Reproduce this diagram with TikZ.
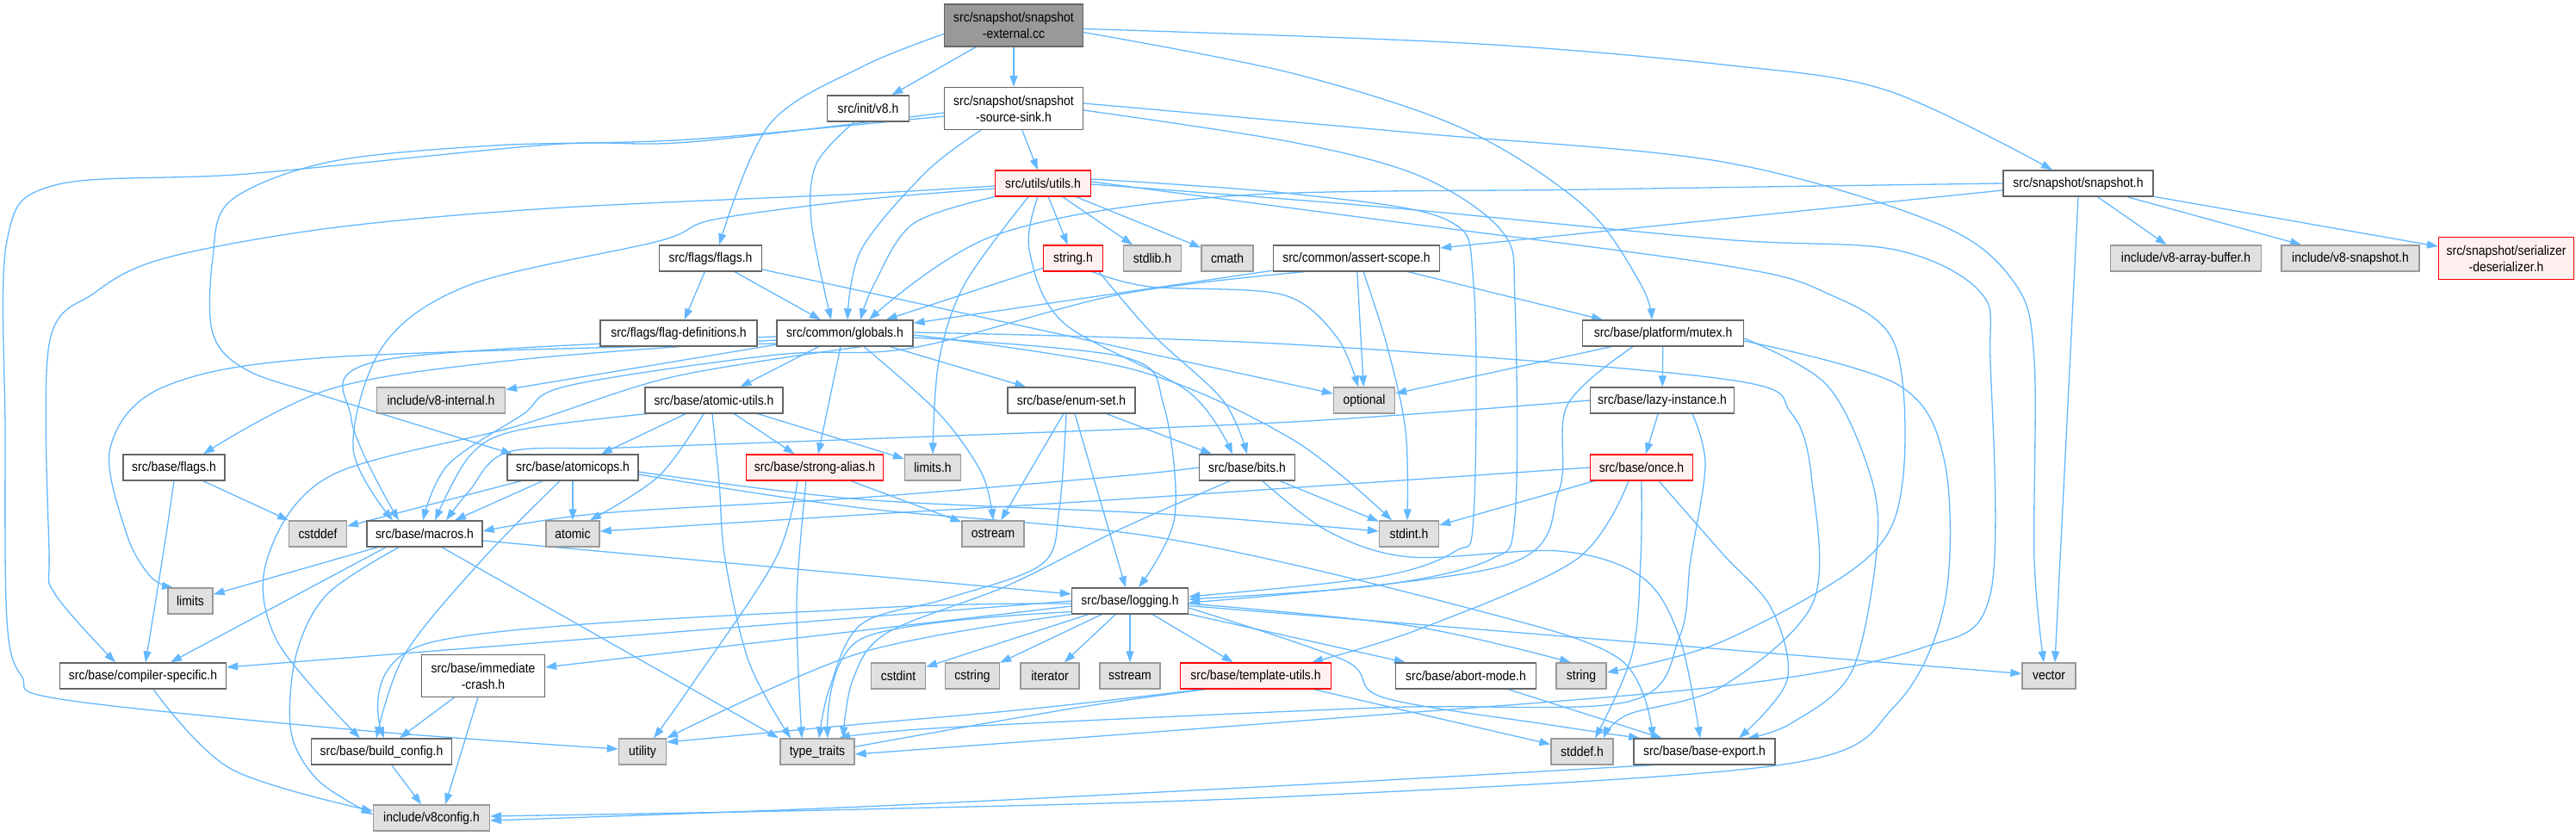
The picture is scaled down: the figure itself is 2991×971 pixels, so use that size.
\documentclass[tikz,border=0pt]{standalone}
\usepackage{fontspec}
\setmainfont[FakeStretch=0.9]{Liberation Sans}
\usetikzlibrary{arrows.meta}
\pgfdeclarelayer{background}
\pgfsetlayers{background,main}
\definecolor{edgeblue}{HTML}{63B8FF}
\definecolor{boxgray}{HTML}{666666}
\definecolor{extgray}{HTML}{999999}
\definecolor{extfill}{HTML}{E0E0E0}
\definecolor{truncfill}{HTML}{FFF0F0}
\definecolor{rootfill}{HTML}{999999}
\newcommand\dxfont{\fontsize{15.5}{19}\selectfont}
\tikzset{
  box/.style={draw=boxgray, fill=white, line width=1.3pt, inner sep=0pt,
              minimum height=30pt, font=\dxfont, align=center, text=black},
  ext/.style={box, draw=extgray, fill=extfill},
  trunc/.style={box, draw=red, fill=truncfill},
  rootbox/.style={box, fill=rootfill},
  twoline/.style={minimum height=49pt},
  e/.style={draw=edgeblue, line width=1.3pt, -{Triangle[length=13pt,width=9pt]}},
  sm/.style={smooth, tension=0.55},
}
\begin{document}
\begin{tikzpicture}[x=1pt,y=-1pt]
\useasboundingbox (0,0) rectangle (2991,971);
% ---------------- nodes ----------------
\node[rootbox, twoline, minimum width=161pt] (root) at (1177,29.5) {src/snapshot/snapshot\\-external.cc};
\node[box, minimum width=95pt] (initv8) at (1008,126) {src/init/v8.h};
\node[box, twoline, minimum width=161pt] (sink) at (1177,126) {src/snapshot/snapshot\\-source-sink.h};
\node[trunc, minimum width=111pt] (utils) at (1211,213) {src/utils/utils.h};
\node[box, minimum width=174pt] (snap) at (2413,213) {src/snapshot/snapshot.h};
\node[box, minimum width=119pt] (flags) at (825,300) {src/flags/flags.h};
\node[trunc, minimum width=69pt] (stringh) at (1246,300) {string.h};
\node[ext, minimum width=67pt] (stdlib) at (1338,300) {stdlib.h};
\node[ext, minimum width=60pt] (cmath) at (1425,300) {cmath};
\node[box, minimum width=193pt] (assert) at (1575,300) {src/common/assert-scope.h};
\node[ext, minimum width=175pt] (arraybuf) at (2538,300) {include/v8-array-buffer.h};
\node[ext, minimum width=160pt] (v8snap) at (2729,300) {include/v8-snapshot.h};
\node[trunc, twoline, minimum width=157pt] (serdes) at (2910,300) {src/snapshot/serializer\\-deserializer.h};
\node[box, minimum width=182pt] (flagdef) at (788,387) {src/flags/flag-definitions.h};
\node[box, minimum width=158pt] (globals) at (981,387) {src/common/globals.h};
\node[box, minimum width=187pt] (mutex) at (1931,387) {src/base/platform/mutex.h};
\node[ext, minimum width=149pt] (v8internal) at (512,465) {include/v8-internal.h};
\node[box, minimum width=160pt] (atomicutils) at (829,465) {src/base/atomic-utils.h};
\node[box, minimum width=148pt] (enumset) at (1244,465) {src/base/enum-set.h};
\node[ext, minimum width=71pt] (optional) at (1584,465) {optional};
\node[box, minimum width=167pt] (lazy) at (1930,465) {src/base/lazy-instance.h};
\node[box, minimum width=118pt] (bflags) at (202,543) {src/base/flags.h};
\node[box, minimum width=152pt] (atomicops) at (665,543) {src/base/atomicops.h};
\node[trunc, minimum width=159pt] (strongalias) at (946,543) {src/base/strong-alias.h};
\node[ext, minimum width=65pt] (limitsh) at (1083,543) {limits.h};
\node[box, minimum width=111pt] (bits) at (1448,543) {src/base/bits.h};
\node[trunc, minimum width=119pt] (once) at (1906,543) {src/base/once.h};
\node[ext, minimum width=67pt] (cstddef) at (369,620) {cstddef};
\node[box, minimum width=134pt] (macros) at (493,620) {src/base/macros.h};
\node[ext, minimum width=62pt] (atomic) at (665,620) {atomic};
\node[ext, minimum width=72pt] (ostream) at (1153,620) {ostream};
\node[ext, minimum width=69pt] (stdint) at (1636,620) {stdint.h};
\node[ext, minimum width=52pt] (limits) at (221,698) {limits};
\node[box, minimum width=135pt] (logging) at (1312,698) {src/base/logging.h};
\node[box, minimum width=193pt] (compiler) at (166,785) {src/base/compiler-specific.h};
\node[box, twoline, minimum width=143pt] (immcrash) at (561,785) {src/base/immediate\\-crash.h};
\node[ext, minimum width=63pt] (cstdint) at (1043,785) {cstdint};
\node[ext, minimum width=63pt] (cstring) at (1129,785) {cstring};
\node[ext, minimum width=68pt] (iterator) at (1219,785) {iterator};
\node[ext, minimum width=70pt] (sstream) at (1312,785) {sstream};
\node[trunc, minimum width=175pt] (tmplutils) at (1458,785) {src/base/template-utils.h};
\node[box, minimum width=163pt] (abort) at (1702,785) {src/base/abort-mode.h};
\node[ext, minimum width=58pt] (string) at (1836,785) {string};
\node[ext, minimum width=62pt] (vector) at (2379,785) {vector};
\node[box, minimum width=163pt] (buildconfig) at (443,873) {src/base/build\_config.h};
\node[ext, minimum width=55pt] (utility) at (746,873) {utility};
\node[ext, minimum width=86pt] (typetraits) at (949,873) {type\_traits};
\node[ext, minimum width=72pt] (stddef) at (1837,873) {stddef.h};
\node[box, minimum width=164pt] (baseexport) at (1979,873) {src/base/base-export.h};
\node[ext, minimum width=135pt] (v8config) at (501,950) {include/v8config.h};
% ---------------- edges ----------------
\begin{pgfonlayer}{background}
% root
\draw[e] plot[sm] coordinates {([yshift=-10pt]root.west) (1000,78) (893,145) ([xshift=10pt]flags.north)};
\draw[e] (root) -- (initv8);
\draw[e] (root) -- (sink);
\draw[e] plot[sm] coordinates {([yshift=-8pt]root.east) (1500,85) (1700,150) (1840,240) (1905,330) ([xshift=-13pt]mutex.north)};
\draw[e] plot[sm] coordinates {([yshift=-4pt]root.east) (1700,50) (2000,75) (2191,105) ([xshift=-30pt]snap.north)};
% init/v8
\draw[e] plot[sm] coordinates {([xshift=-16pt]initv8.south) (948,190) (942,257) ([xshift=-16pt]globals.north)};
% source-sink
\draw[e] (sink) -- (utils);
\draw[e] plot[sm] coordinates {([xshift=-38pt]sink.south) (1075,200) (1000,290) ([xshift=3pt]globals.north)};
\draw[e] plot[sm] coordinates {([yshift=-5pt]sink.west) (800,165) (638,168) (287,202) (64,215) (8,280) (6,500) (8,720) (25,785) (70,812) (415,848) ([yshift=3pt]utility.west)};
\draw[e] plot[sm] coordinates {([yshift=-9pt]sink.west) (800,162) (574,169) (383,188) (268,233) (247,300) (247,387) (287,430) (383,462) ([xshift=-70pt]atomicops.north)};
\draw[e] plot[sm] coordinates {([yshift=6pt]sink.east) (1650,155) (2000,188) (2250,260) (2340,330) (2362,420) (2362,650) ([xshift=-6pt]vector.north)};
\draw[e] plot[sm] coordinates {([yshift=-2pt]sink.east) (1500,165) (1650,205) (1745,270) (1759,350) (1759,600) (1730,650) (1600,680) ([yshift=2pt]logging.east)};
% utils
\draw[e] (utils) -- (stringh);
\draw[e] (utils) -- (stdlib);
\draw[e] (utils) -- (cmath);
\draw[e] plot[sm] coordinates {(utils.south west) (1060,260) (1015,330) ([xshift=18pt]globals.north)};
\draw[e] plot[sm] coordinates {([xshift=-17pt]utils.south) (1120,330) (1090,420) (limitsh.north)};
\draw[e] plot[sm] coordinates {([xshift=-6pt]utils.south) (1195,290) (1235,375) (1380,455) ([xshift=-17pt]bits.north)};
\draw[e] plot[sm] coordinates {([yshift=-3pt]utils.west) (1000,225) (638,242) (383,265) (191,300) (110,340) (57,400) (57,640) (64,690) ([xshift=-32pt]compiler.north)};
\draw[e] plot[sm] coordinates {([yshift=-6pt]utils.west) (1000,232) (829,255) (765,280) (548,330) (446,400) (410,520) ([xshift=-37pt]macros.north)};
\draw[e] plot[sm] coordinates {([yshift=5pt]utils.east) (1500,225) (1679,255) (1711,330) (1711,600) (1690,640) (1600,670) ([yshift=5pt]logging.east)};
\draw[e] plot[sm] coordinates {([yshift=2pt]utils.east) (1600,255) (2000,308) (2120,340) (2200,400) (2209,560) (2166,650) (2000,745) ([yshift=4pt]string.east)};
\draw[e] plot[sm] coordinates {([yshift=-1pt]utils.east) (1600,240) (2000,278) (2200,290) (2300,340) (2311,420) (2311,690) (2230,753) (2000,797) (1500,838) ([yshift=-3pt]typetraits.east)};
% snapshot.h
\draw[e] plot[sm] coordinates {(snap.west) (1850,220) (1424,228) (1156,273) ([xshift=28pt]globals.north)};
\draw[e] ([yshift=-8pt]snap.west) -- ([yshift=12pt]assert.east);
\draw[e] (snap.south) -- ([xshift=7pt]vector.north);
\draw[e] (snap) -- (arraybuf);
\draw[e] (snap) -- (v8snap);
\draw[e] (snap) -- (serdes);
% flags.h
\draw[e] (flags) -- (flagdef);
\draw[e] (flags) -- (globals);
\draw[e] (flags) -- (optional);
% string.h
\draw[e] (stringh) -- (globals);
\draw[e] plot[sm] coordinates {([xshift=22pt]stringh.south) (1335,333) (1488,342) (1551,390) ([xshift=-7pt]optional.north)};
\draw[e] plot[sm] coordinates {([xshift=30pt]stringh.south) (1340,390) (1420,465) (bits.north)};
% assert-scope.h
\draw[e] (assert) -- (globals);
\draw[e] plot[sm] coordinates {([xshift=-60pt]assert.south) (1300,342) (1060,404) (902,412) (660,448) (606,482) (520,540) ([xshift=-2pt]macros.north)};
\draw[e] (assert) -- (optional);
\draw[e] plot[sm] coordinates {([xshift=8pt]assert.south) (1610,400) (1632,500) ([xshift=-2pt]stdint.north)};
\draw[e] ([xshift=60pt]assert.south) -- ([xshift=-70pt]mutex.north);
% globals.h
\draw[e] (globals) -- (v8internal);
\draw[e] (globals) -- (atomicutils);
\draw[e] (globals) -- (enumset);
\draw[e] plot[sm] coordinates {([yshift=-8pt]globals.west) (600,418) (383,452) ([xshift=34pt]bflags.north)};
\draw[e] plot[sm] coordinates {([yshift=-12pt]globals.west) (383,415) (191,449) (128,520) (147,620) (175,670) ([xshift=-20pt]limits.north)};
\draw[e] plot[sm] coordinates {([yshift=-4pt]globals.west) (446,418) (408,487) ([xshift=-30pt]macros.north)};
\draw[e] ([xshift=-5pt]globals.south) -- ([xshift=4pt]strongalias.north);
\draw[e] plot[sm] coordinates {([xshift=22pt]globals.south) (1090,480) (1140,550) (ostream.north)};
\draw[e] plot[sm] coordinates {([yshift=-5pt]globals.east) (1306,415) (1351,470) (1364,600) ([xshift=10pt]logging.north)};
\draw[e] plot[sm] coordinates {([yshift=-2pt]globals.east) (1319,430) (1500,510) ([xshift=-20pt]stdint.north)};
\draw[e] plot[sm] coordinates {([yshift=1pt]globals.east) (1500,400) (2000,440) (2080,480) (2104,560) (2105,700) (2000,797) (1890,830) ([xshift=25pt]stddef.north)};
\draw[e] plot[sm] coordinates {([xshift=19pt]globals.south) (780,438) (600,495) (383,553) (310,650) (322,745) ([xshift=-25pt]buildconfig.north)};
% mutex.h
\draw[e] ([xshift=-60pt]mutex.south) -- ([yshift=8pt]optional.east);
\draw[e] (mutex) -- (lazy);
\draw[e] plot[sm] coordinates {([xshift=-35pt]mutex.south) (1820,470) (1810,570) (1746,657) ([yshift=-2pt]logging.east)};
\draw[e] plot[sm] coordinates {([yshift=-6pt]mutex.east) (2121,447) (2172,553) (2179,640) (2150,780) (2080,840) ([xshift=50pt]baseexport.north)};
\draw[e] plot[sm] coordinates {([yshift=-9pt]mutex.east) (2204,447) (2258,537) (2258,700) (2200,820) (2070,888) (1500,925) (1000,940) ([yshift=2pt]v8config.east)};
% lazy-instance.h
\draw[e] (lazy) -- (once);
\draw[e] plot[sm] coordinates {(lazy.west) (1500,490) (1000,510) (720,520) (590,525) (545,570) ([xshift=25pt]macros.north)};
\draw[e] plot[sm] coordinates {([xshift=35pt]lazy.south) (1980,540) (1963,650) (1950,740) (1890,815) (1600,822) (1100,845) ([xshift=25pt]typetraits.north)};
% once.h
\draw[e] (once) -- (stdint);
\draw[e] plot[sm] coordinates {(once.west) (1300,580) (1000,598) ([yshift=3pt]atomic.east)};
\draw[e] plot[sm] coordinates {(once.south) (1905,650) (1895,760) ([xshift=15pt]stddef.north)};
\draw[e] plot[sm] coordinates {([xshift=-15pt]once.south) (1830,650) (1650,730) ([xshift=65pt]tmplutils.north)};
\draw[e] plot[sm] coordinates {([xshift=20pt]once.south) (2000,643) (2057,707) (2075,790) ([xshift=40pt]baseexport.north)};
% atomic-utils.h
\draw[e] plot[sm] coordinates {([xshift=-78pt]atomicutils.south) (600,500) (545,530) ([xshift=12pt]macros.north)};
\draw[e] (atomicutils) -- (atomicops);
\draw[e] plot[sm] coordinates {([xshift=-12pt]atomicutils.south) (765,553) ([xshift=20pt]atomic.north)};
\draw[e] plot[sm] coordinates {([xshift=-2pt]atomicutils.south) (835,560) (842,650) (870,770) ([xshift=-31pt]typetraits.north)};
\draw[e] (atomicutils) -- (strongalias);
\draw[e] (atomicutils) -- (limitsh);
% enum-set.h
\draw[e] (enumset) -- (ostream);
\draw[e] (enumset) -- (bits);
\draw[e] plot[sm] coordinates {([xshift=-6pt]enumset.south) (1230,590) (1210,655) (1100,695) (1000,725) (963,800) ([xshift=2pt]typetraits.north)};
\draw[e] plot[sm] coordinates {([xshift=4pt]enumset.south) (1280,590) ([xshift=-5pt]logging.north)};
% base/flags.h
\draw[e] (bflags) -- (cstddef);
\draw[e] plot[sm] coordinates {(bflags.south) (190,640) ([xshift=3pt]compiler.north)};
% atomicops.h
\draw[e] (atomicops) -- (cstddef);
\draw[e] (atomicops) -- (macros);
\draw[e] (atomicops) -- (atomic);
\draw[e] plot[sm] coordinates {([xshift=-15pt]atomicops.south) (560,650) (470,760) ([xshift=-6pt]buildconfig.north)};
\draw[e] plot[sm] coordinates {([yshift=-5pt]atomicops.east) (1000,580) (1350,597) ([yshift=3pt]stdint.west)};
\draw[e] plot[sm] coordinates {([yshift=-8pt]atomicops.east) (1000,590) (1350,625) (1700,705) (1880,765) ([xshift=-60pt]baseexport.north)};
% strong-alias.h
\draw[e] (strongalias) -- (ostream);
\draw[e] plot[sm] coordinates {([xshift=-10pt]strongalias.south) (925,700) ([xshift=-18pt]typetraits.north)};
\draw[e] plot[sm] coordinates {([xshift=-20pt]strongalias.south) (900,650) (800,800) ([xshift=13pt]utility.north)};
% bits.h
\draw[e] plot[sm] coordinates {(bits.west) (1300,553) (1000,578) (700,596) ([yshift=3pt]macros.east)};
\draw[e] (bits) -- (stdint);
\draw[e] plot[sm] coordinates {([xshift=-20pt]bits.south) (1300,615) (1170,680) (1030,735) (990,790) ([xshift=30pt]typetraits.north)};
\draw[e] plot[sm] coordinates {([xshift=18pt]bits.south) (1542,617) (1638,647) (1810,640) (1906,670) (1950,740) ([xshift=-5pt]baseexport.north)};
% logging.h
\draw[e] (logging) -- (cstdint);
\draw[e] (logging) -- (cstring);
\draw[e] (logging) -- (iterator);
\draw[e] (logging) -- (sstream);
\draw[e] (logging) -- (tmplutils);
\draw[e] (logging) -- (abort);
\draw[e] plot[sm] coordinates {([yshift=-3pt]logging.east) (1638,727) ([xshift=-12pt]string.north)};
\draw[e] (logging) -- (vector);
\draw[e] plot[sm] coordinates {([yshift=-8pt]logging.east) (1561,767) (1606,810) (1800,842) ([xshift=-75pt]baseexport.north)};
\draw[e] (logging.west) -- ([yshift=10pt]compiler.east);
\draw[e] ([yshift=-6pt]logging.west) -- ([yshift=10pt]immcrash.east);
\draw[e] plot[sm] coordinates {([yshift=-3pt]logging.west) (1000,707) (497,747) ([xshift=3pt]buildconfig.north)};
\draw[e] plot[sm] coordinates {(logging.south west) (1000,758) (utility.north east)};
\draw[e] plot[sm] coordinates {([yshift=3pt]logging.south west) (1000,742) ([xshift=12pt]typetraits.north)};
% template-utils.h
\draw[e] plot[sm] coordinates {([xshift=-62pt]tmplutils.south) (1200,823) (1000,841) ([yshift=11pt]utility.east)};
\draw[e] plot[sm] coordinates {([xshift=-58pt]tmplutils.south) (1250,822) (1000,866) ([yshift=4pt]typetraits.east)};
\draw[e] (tmplutils) -- (stddef);
% others
\draw[e] (abort) -- (baseexport);
\draw[e] (immcrash) -- (buildconfig);
\draw[e] ([xshift=-6pt]immcrash.south) -- ([xshift=16pt]v8config.north);
\draw[e] (buildconfig) -- (v8config);
\draw[e] plot[sm] coordinates {([xshift=12pt]compiler.south) (268,893) ([yshift=8pt]v8config.west)};
\draw[e] plot[sm] coordinates {([xshift=-30pt]macros.south) (380,690) (344,760) (338,850) (370,907) ([yshift=4pt]v8config.west)};
\draw[e] (macros) -- (limits);
\draw[e] ([xshift=-45pt]macros.south) -- ([xshift=32pt]compiler.north);
\draw[e] ([yshift=-8pt]macros.east) -- ([yshift=8pt]logging.west);
\draw[e] ([xshift=20pt]macros.south) -- ([xshift=-45pt]typetraits.north);
\draw[e] plot[sm] coordinates {([xshift=-60pt]baseexport.south) (1500,912) (1000,937) ([yshift=-3pt]v8config.east)};
\end{pgfonlayer}
\end{tikzpicture}
\end{document}
